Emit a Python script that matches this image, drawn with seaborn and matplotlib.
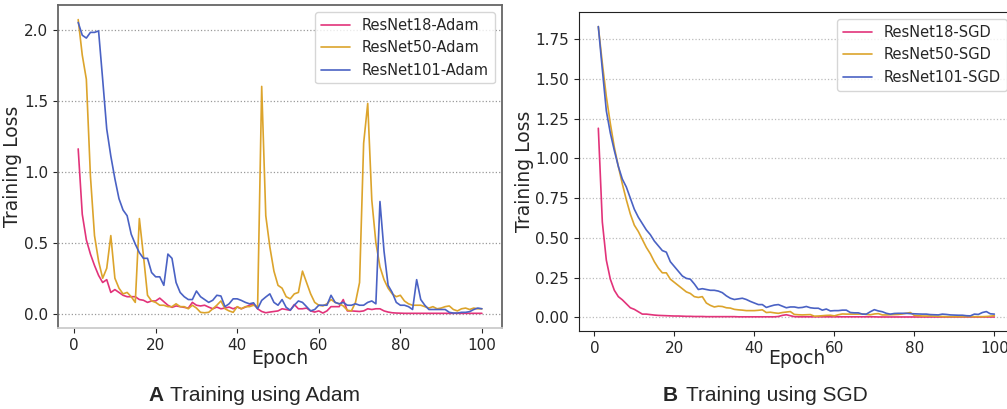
import matplotlib
matplotlib.use("Agg")
import matplotlib.pyplot as plt
import seaborn as sns
import pandas as pd

# epochs 1..100
epochs = list(range(1, 101))

# ---- Adam ----
adam_r18 = [1.16, 0.70, 0.52, 0.42, 0.34, 0.27, 0.22, 0.24, 0.15, 0.17,
            0.15, 0.13, 0.12, 0.12, 0.12, 0.10, 0.095, 0.08, 0.09, 0.09,
            0.11, 0.085, 0.06, 0.045, 0.055, 0.05, 0.045, 0.04, 0.08, 0.06,
            0.055, 0.06, 0.047, 0.035, 0.047, 0.035, 0.04, 0.047, 0.035, 0.047,
            0.035, 0.047, 0.06, 0.07, 0.035, 0.016, 0.007, 0.012, 0.016, 0.02,
            0.035, 0.03, 0.024, 0.065, 0.035, 0.035, 0.04, 0.02, 0.012, 0.02,
            0.005, 0.02, 0.05, 0.05, 0.05, 0.10, 0.02, 0.02, 0.018, 0.016,
            0.02, 0.035, 0.03, 0.035, 0.035, 0.02, 0.012, 0.007, 0.005, 0.004,
            0.003, 0.003, 0.003, 0.003, 0.003, 0.003, 0.003, 0.003, 0.003, 0.003,
            0.003, 0.003, 0.003, 0.003, 0.003, 0.003, 0.003, 0.003, 0.003, 0.003]

adam_r50 = [2.07, 1.82, 1.65, 0.97, 0.55, 0.37, 0.25, 0.32, 0.55, 0.25,
            0.18, 0.14, 0.15, 0.12, 0.08, 0.67, 0.41, 0.13, 0.09, 0.08,
            0.06, 0.06, 0.05, 0.05, 0.07, 0.05, 0.05, 0.035, 0.06, 0.04,
            0.01, 0.007, 0.01, 0.035, 0.06, 0.09, 0.035, 0.02, 0.01, 0.05,
            0.035, 0.05, 0.05, 0.06, 0.05, 1.60, 0.69, 0.47, 0.30, 0.20,
            0.18, 0.12, 0.105, 0.14, 0.15, 0.30, 0.22, 0.14, 0.08, 0.06,
            0.055, 0.07, 0.10, 0.08, 0.07, 0.055, 0.025, 0.02, 0.08, 0.22,
            1.20, 1.48, 0.80, 0.50, 0.33, 0.24, 0.18, 0.14, 0.12, 0.13,
            0.09, 0.07, 0.06, 0.06, 0.06, 0.05, 0.04, 0.05, 0.035, 0.04,
            0.05, 0.055, 0.03, 0.02, 0.035, 0.04, 0.03, 0.04, 0.035, 0.035]

adam_r101 = [2.05, 1.96, 1.94, 1.98, 1.98, 1.99, 1.65, 1.30, 1.11, 0.95,
             0.81, 0.73, 0.69, 0.56, 0.49, 0.43, 0.39, 0.39, 0.29, 0.26,
             0.26, 0.20, 0.42, 0.39, 0.22, 0.15, 0.12, 0.10, 0.10, 0.16,
             0.12, 0.10, 0.08, 0.095, 0.13, 0.125, 0.05, 0.07, 0.105, 0.105,
             0.094, 0.08, 0.07, 0.077, 0.035, 0.094, 0.118, 0.14, 0.08, 0.06,
             0.10, 0.045, 0.025, 0.06, 0.09, 0.08, 0.05, 0.02, 0.03, 0.06,
             0.06, 0.06, 0.13, 0.08, 0.07, 0.08, 0.06, 0.06, 0.07, 0.06,
             0.06, 0.08, 0.09, 0.07, 0.79, 0.44, 0.20, 0.15, 0.08, 0.06,
             0.06, 0.05, 0.03, 0.24, 0.10, 0.06, 0.03, 0.03, 0.03, 0.03,
             0.03, 0.01, 0.005, 0.005, 0.01, 0.01, 0.015, 0.03, 0.04, 0.035]

# ---- SGD ----
sgd_r18 = [1.19, 0.60, 0.36, 0.24, 0.17, 0.13, 0.11, 0.085, 0.06, 0.05,
           0.035, 0.02, 0.02, 0.017, 0.014, 0.012, 0.011, 0.01, 0.009, 0.008,
           0.008, 0.007, 0.006, 0.006, 0.005, 0.005, 0.005, 0.004, 0.004, 0.004,
           0.004, 0.004, 0.004, 0.004, 0.004, 0.003, 0.003, 0.003, 0.003, 0.003,
           0.003, 0.003, 0.003, 0.003, 0.003, 0.005, 0.012, 0.016, 0.01, 0.004,
           0.003, 0.003, 0.003, 0.003, 0.003, 0.003, 0.003, 0.003, 0.003, 0.003,
           0.003, 0.003, 0.003, 0.003, 0.003, 0.003, 0.003, 0.003, 0.003, 0.003,
           0.002, 0.002, 0.002, 0.002, 0.002, 0.002, 0.002, 0.002, 0.002, 0.002,
           0.002, 0.002, 0.002, 0.002, 0.002, 0.002, 0.002, 0.002, 0.002, 0.002,
           0.002, 0.002, 0.002, 0.002, 0.002, 0.002, 0.002, 0.002, 0.002, 0.002]

sgd_r50 = [1.83, 1.60, 1.39, 1.22, 1.07, 0.95, 0.84, 0.74, 0.65, 0.58,
           0.54, 0.49, 0.44, 0.40, 0.35, 0.31, 0.28, 0.28, 0.24, 0.22,
           0.20, 0.18, 0.16, 0.15, 0.13, 0.125, 0.13, 0.09, 0.075, 0.065,
           0.07, 0.068, 0.06, 0.058, 0.05, 0.047, 0.045, 0.042, 0.042, 0.042,
           0.044, 0.047, 0.03, 0.032, 0.028, 0.025, 0.03, 0.033, 0.036, 0.018,
           0.016, 0.015, 0.016, 0.017, 0.007, 0.008, 0.01, 0.012, 0.013, 0.009,
           0.016, 0.021, 0.02, 0.02, 0.02, 0.02, 0.021, 0.018, 0.016, 0.021,
           0.023, 0.015, 0.015, 0.016, 0.017, 0.018, 0.021, 0.025, 0.03, 0.012,
           0.01, 0.008, 0.008, 0.008, 0.007, 0.006, 0.005, 0.004, 0.004, 0.004,
           0.004, 0.004, 0.004, 0.004, 0.004, 0.004, 0.004, 0.005, 0.007, 0.01]

sgd_r101 = [1.83, 1.56, 1.30, 1.16, 1.05, 0.95, 0.87, 0.82, 0.75, 0.68,
            0.63, 0.59, 0.55, 0.52, 0.48, 0.45, 0.42, 0.41, 0.35, 0.32,
            0.29, 0.26, 0.245, 0.24, 0.21, 0.175, 0.18, 0.175, 0.17, 0.17,
            0.165, 0.155, 0.135, 0.12, 0.112, 0.116, 0.12, 0.112, 0.10, 0.09,
            0.08, 0.08, 0.062, 0.07, 0.077, 0.08, 0.07, 0.06, 0.065, 0.065,
            0.06, 0.062, 0.068, 0.06, 0.057, 0.057, 0.045, 0.052, 0.04, 0.042,
            0.042, 0.045, 0.045, 0.03, 0.028, 0.028, 0.02, 0.02, 0.035, 0.048,
            0.04, 0.035, 0.025, 0.02, 0.024, 0.025, 0.025, 0.025, 0.023, 0.022,
            0.021, 0.02, 0.02, 0.017, 0.016, 0.015, 0.02, 0.018, 0.015, 0.014,
            0.013, 0.013, 0.01, 0.009, 0.02, 0.018, 0.03, 0.036, 0.022, 0.02]

colors = ["#e2337a", "#dca42c", "#4a62c4"]

sns.set_style("ticks")
plt.rcParams["font.family"] = ["DejaVu Sans"]

fig = plt.figure(figsize=(10.07, 4.09), dpi=100)
ax1 = fig.add_axes([0.0576, 0.198, 0.441, 0.790])
ax2 = fig.add_axes([0.5745, 0.1895, 0.4326, 0.781])


def draw(ax, series, names, grid_color, spine_color):
    for vals, name, c in zip(series, names, colors):
        df = pd.DataFrame({"Epoch": epochs, "Loss": vals})
        sns.lineplot(data=df, x="Epoch", y="Loss", ax=ax, color=c, lw=1.2, label=name)
    ax.set_xticks([0, 20, 40, 60, 80, 100])
    ax.grid(axis="y", linestyle=":", color=grid_color, lw=0.9)
    ax.set_xlabel("Epoch", fontsize=13.5)
    ax.set_ylabel("Training Loss", fontsize=13.5)
    ax.tick_params(labelsize=11)
    for s in ax.spines.values():
        s.set_color(spine_color)
    ax.legend(loc="upper right", fontsize=10.5, handlelength=2.0)


draw(ax1, [adam_r18, adam_r50, adam_r101],
     ["ResNet18-Adam", "ResNet50-Adam", "ResNet101-Adam"], "#999999", "#666666")
ax1.set_yticks([0.0, 0.5, 1.0, 1.5, 2.0])
for s in ax1.spines.values():
    s.set_linewidth(1.3)
ax1.spines["bottom"].set_color("#cccccc")
ax1.yaxis.set_label_coords(-0.08, 0.5)
ax1.xaxis.set_label_coords(0.5, -0.065)

draw(ax2, [sgd_r18, sgd_r50, sgd_r101],
     ["ResNet18-SGD", "ResNet50-SGD", "ResNet101-SGD"], "#bbbbbb", "#222222")
ax2.set_yticks([0.0, 0.25, 0.5, 0.75, 1.0, 1.25, 1.5, 1.75])
ax2.yaxis.set_label_coords(-0.102, 0.5)
ax2.xaxis.set_label_coords(0.5, -0.055)

cap = dict(family="Liberation Sans", fontsize=15, va="baseline")
fig.text(148 / 1007, 0.02, "A", weight="bold", **cap)
fig.text(170 / 1007, 0.02, "Training using Adam", **cap)
fig.text(663 / 1007, 0.02, "B", weight="bold", **cap)
fig.text(686 / 1007, 0.02, "Training using SGD", **cap)

fig.savefig("out.png", dpi=100)
